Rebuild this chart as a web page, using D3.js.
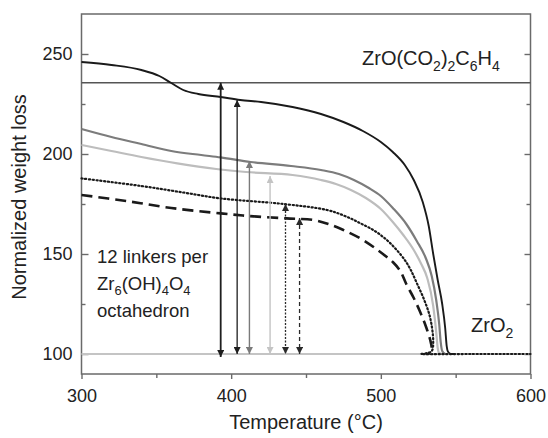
<!DOCTYPE html>
<html>
<head>
<meta charset="utf-8">
<script src="https://cdn.jsdelivr.net/npm/d3@7"></script>
<style>
  html, body { margin: 0; padding: 0; background: #fff; }
  svg { display: block; font-family: "Liberation Sans", Arial, sans-serif; }
</style>
</head>
<body>
<svg id="stage" width="548" height="438"></svg>
<script>
// ---- data ----
const blackT  = [300,320,340,352,360,368,378,393,406,420,441,460,475,488,500,508,516,522,528,532,535,538,541,543,544,545,547,549];
const blackV  = [246,244.5,242,239,235.5,232,230,228.5,227,226,223.5,220,216,211.5,206,201,194.5,187,176,164,150,137,125,113,104,101,100,100];

const dgrayT  = [300,320,340,360,380,393,413,440,460,472,482,492,500,508,517,524,530,534,537,539,540,541,543];
const dgrayV  = [212.5,208.5,205,201.5,199.5,198.3,196,194,192,190,187,183,179,173,165,156.5,148,139,127,115,106,101.5,100];

const lgrayT  = [300,320,340,364,390,410,441,460,470,480,490,500,508,515,522,527,531,535,537,538,539,541];
const lgrayV  = [204.5,201.5,198.5,195.3,192.5,191,189.5,187,185,182,178,172.5,166,159.5,152,145,138,124,111,103,100.5,100];

const dotT    = [300,340,370,393,435,464,476,486,496,504,510,516,520,524,529,533,535,534,530,527,560,600];
const dotV    = [187.8,184,180.5,177.8,175,172,169,165.5,161.5,157,152.5,147,142,135.5,127,118,106,101.5,100.3,100,100,100];

const dashT   = [300,330,360,393,415,437,455,465,475,487,497,504,508,513,517,522,526,530,533,534,533,530];
const dashV   = [179.5,176.5,173,170.3,168.8,167.8,167,165,162,157.5,152.5,148.5,146,141.5,135,128,121.5,114,107,102.5,100.5,100];

const linkerLevel = 235.6;   // ZrO(CO2)2C6H4 level
const zro2Level   = 100;

// arrows: temperature, top value
const arrowT   = [393, 404, 412.2, 426, 436.3, 445.7];
const arrowTop = [235.6, 227, 196.5, 189, 175, 168];

const xMajor = [300, 400, 500, 600];
const xMinor = [350, 450, 550];
const yMajor = [100, 150, 200, 250];
const yMinor = [125, 175, 225];

// ---- layout ----
const svg = d3.select("#stage");
const L = 81.5, R = 530.5, T = 14, B = 374;

const x = d3.scaleLinear().domain([300, 600]).range([L, R]);
const y = d3.scaleLinear().domain([90, 270]).range([B, T]);

const FRAME = "#6a6a6a";
const TXT = "#222";

// arrow heads
const defs = svg.append("defs");
function head(id, color){
  defs.append("marker")
    .attr("id", id)
    .attr("viewBox", "0 0 10 10")
    .attr("refX", 10).attr("refY", 5)
    .attr("markerWidth", 9).attr("markerHeight", 7)
    .attr("markerUnits", "userSpaceOnUse")
    .attr("orient", "auto-start-reverse")
    .append("path")
      .attr("d", "M0,0 L10,5 L0,10 z")
      .attr("fill", color);
}
const arrowStyle = [
  {c:"#1e1e1e", w:1.8, dash:null},
  {c:"#1e1e1e", w:1.3, dash:null},
  {c:"#7a7a7a", w:1.4, dash:null},
  {c:"#c4c4c4", w:1.4, dash:null},
  {c:"#2a2a2a", w:1.3, dash:"2 1.5"},
  {c:"#2a2a2a", w:1.3, dash:"4 3"}
];
arrowStyle.forEach((s,i)=> head("ah"+i, s.c));

// ---- axes ----
const gx = svg.append("g").attr("transform", `translate(0,${B})`);
gx.call(d3.axisBottom(x).tickValues(xMajor).tickSize(5).tickPadding(10).tickFormat(d3.format("d")));
gx.append("g").call(d3.axisBottom(x).tickValues(xMinor).tickSize(4).tickFormat(""));

const gy = svg.append("g").attr("transform", `translate(${L},0)`);
gy.call(d3.axisLeft(y).tickValues(yMajor).tickSize(-7).tickPadding(9).tickFormat(d3.format("d")));
gy.append("g").call(d3.axisLeft(y).tickValues(yMinor).tickSize(-4).tickFormat(""));

const gr = svg.append("g").attr("transform", `translate(${R},0)`);
gr.call(d3.axisRight(y).tickValues(yMajor).tickSize(-6).tickFormat(""));
gr.append("g").call(d3.axisRight(y).tickValues(yMinor).tickSize(-4).tickFormat(""));

svg.selectAll(".domain").remove();
svg.selectAll(".tick line").attr("stroke", FRAME).attr("stroke-width", 1.4);
svg.selectAll(".tick text").attr("font-size", 18).attr("fill", TXT)
   .attr("font-family", "Liberation Sans, Arial, sans-serif");

// frame
svg.append("rect")
  .attr("x", L).attr("y", T).attr("width", R-L).attr("height", B-T)
  .attr("fill", "none").attr("stroke", FRAME).attr("stroke-width", 1.5);

// axis titles
svg.append("text")
  .attr("x", (L+R)/2).attr("y", 429)
  .attr("text-anchor", "middle").attr("font-size", 20).attr("fill", TXT)
  .text("Temperature (°C)");
svg.append("text")
  .attr("transform", `translate(26,${(T+B)/2 + 3}) rotate(-90)`)
  .attr("text-anchor", "middle").attr("font-size", 20).attr("fill", TXT)
  .text("Normalized weight loss");

// reference levels
svg.append("line")
  .attr("x1", L).attr("x2", R).attr("y1", y(linkerLevel)).attr("y2", y(linkerLevel))
  .attr("stroke", "#555").attr("stroke-width", 1.5);
svg.append("line")
  .attr("x1", L).attr("x2", R).attr("y1", y(zro2Level)).attr("y2", y(zro2Level))
  .attr("stroke", "#c4c4c4").attr("stroke-width", 2);

// ---- curves ----
const smooth = d3.line().x(d=>x(d[0])).y(d=>y(d[1])).curve(d3.curveMonotoneX);
const curly  = d3.line().x(d=>x(d[0])).y(d=>y(d[1])).curve(d3.curveCatmullRom.alpha(0.5));
const series = [
  {t:lgrayT, v:lgrayV, c:"#bdbdbd", w:2.2, dash:null, gen:smooth},
  {t:dgrayT, v:dgrayV, c:"#7c7c7c", w:2.2, dash:null, gen:smooth},
  {t:dashT,  v:dashV,  c:"#1a1a1a", w:2.6, dash:"11 6", gen:curly},
  {t:dotT,   v:dotV,   c:"#1a1a1a", w:2.2, dash:"1.2 2.6", gen:curly},
  {t:blackT, v:blackV, c:"#1a1a1a", w:1.9, dash:null, gen:smooth}
];
series.forEach(s=>{
  const pts = s.t.map((t,i)=>[t, s.v[i]]);
  svg.append("path")
    .datum(pts)
    .attr("d", s.gen)
    .attr("fill", "none")
    .attr("stroke", s.c)
    .attr("stroke-width", s.w)
    .attr("stroke-dasharray", s.dash)
    .attr("stroke-linecap", s.dash && s.dash.startsWith("1.2") ? "round" : "butt");
});

// ---- arrows ----
arrowT.forEach((t,i)=>{
  const s = arrowStyle[i];
  svg.append("line")
    .attr("x1", x(t)).attr("x2", x(t))
    .attr("y1", y(arrowTop[i])).attr("y2", y(i===0 ? 98.5 : 100))
    .attr("stroke", s.c).attr("stroke-width", s.w)
    .attr("stroke-dasharray", s.dash)
    .attr("marker-start", `url(#ah${i})`)
    .attr("marker-end", `url(#ah${i})`);
});

// ---- labels ----
function chem(parts, px, py, size){
  const t = svg.append("text").attr("x", px).attr("y", py).attr("font-size", size).attr("fill", TXT);
  parts.forEach(p=>{
    const sp = t.append("tspan").text(p[0]);
    if (p[1]) sp.attr("font-size", size*0.7).attr("dy", size*0.28);
    else sp.attr("dy", p[2] ? -size*0.28 : 0);
  });
  return t;
}
// [text, isSub, afterSub]
chem([["ZrO(CO"],["2",1],[")",0,1],["2",1],["C",0,1],["6",1],["H",0,1],["4",1]], 362, 65, 20);
chem([["ZrO"],["2",1]], 471, 332, 20);

const note = svg.append("g").attr("font-size", 18.5).attr("fill", TXT);
note.append("text").attr("x", 97).attr("y", 263).text("12 linkers per");
chem([["Zr"],["6",1],["(OH)",0,1],["4",1],["O",0,1],["4",1]], 97, 290, 18.5);
note.append("text").attr("x", 97).attr("y", 317).text("octahedron");
</script>
</body>
</html>
